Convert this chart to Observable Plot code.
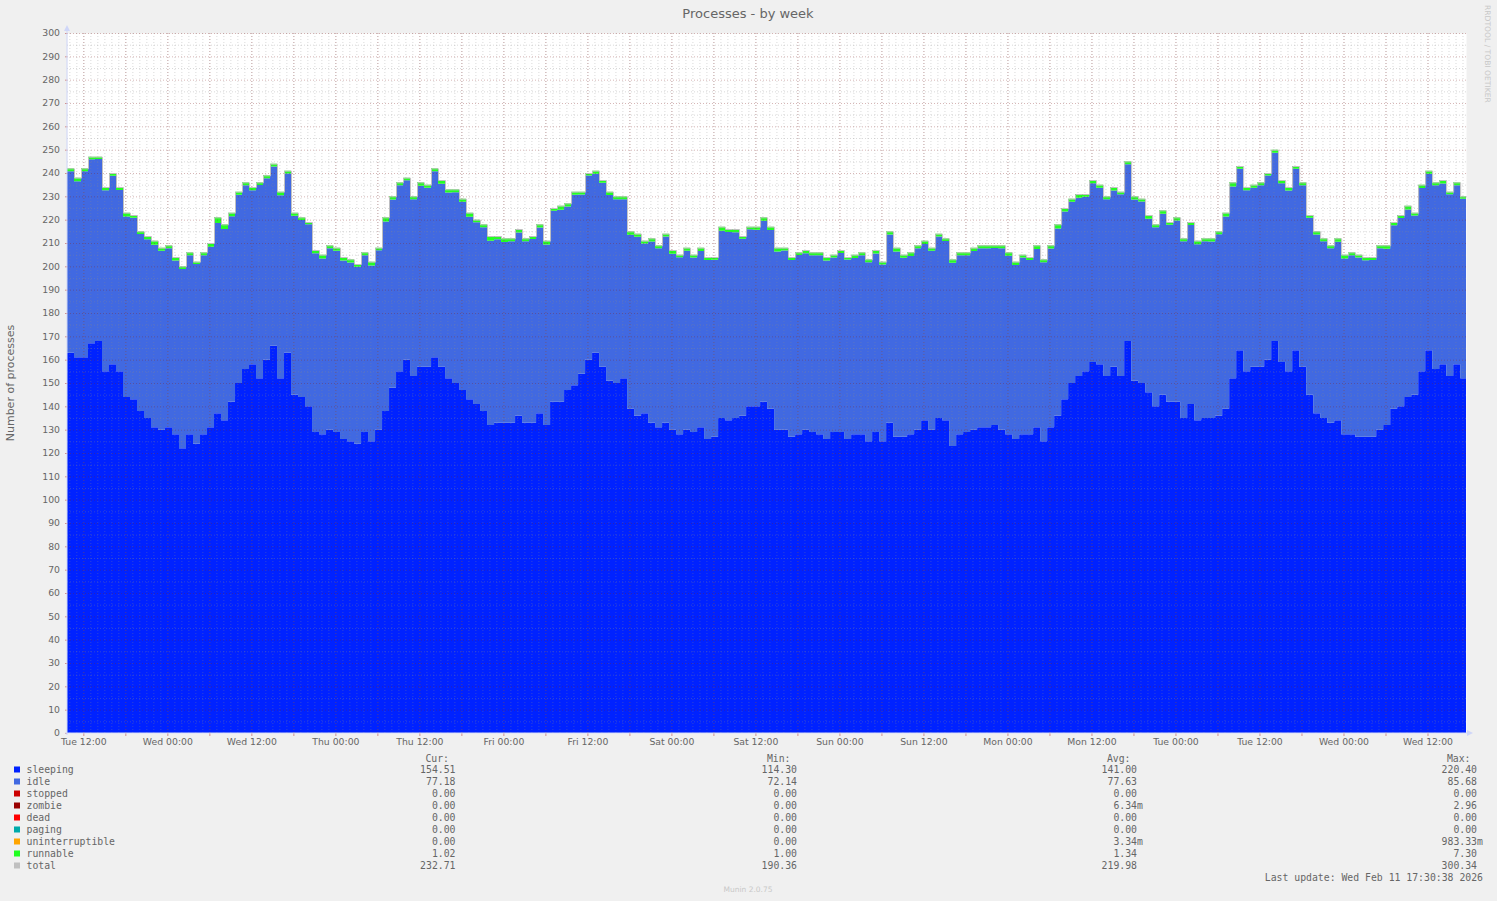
<!DOCTYPE html>
<html>
<head>
<meta charset="utf-8">
<script src="https://cdn.jsdelivr.net/npm/d3@7"></script>
<script src="https://cdn.jsdelivr.net/npm/@observablehq/plot@0.6"></script>
<style>
html, body { margin: 0; padding: 0; background: #f0f0f0; }
#chart { width: 1497px; height: 901px; }
</style>
</head>
<body>
<div id="chart"></div>
<script>
// ---- Data (hourly samples) ----
const startTime = "2026-02-03T09:40:00Z";
const endTime = "2026-02-11T17:30:00Z";

const sleeping = [
163,161,161,167,168,155,158,155,144,143,138,135,131,130,131,128,122,128,124,128,131,137,134,142,150,156,158,152,160,166,152,163,145,144,140,129,128,130,129,126,
125,124,129,125,130,138,148,155,160,153,157,157,161,157,152,150,147,143,141,138,132,133,133,133,136,133,133,137,132,142,142,147,149,154,160,163,157,151,150,152,
139,136,137,133,131,133,130,128,130,129,131,126,127,135,134,135,136,140,140,142,139,130,130,127,128,130,129,128,126,129,129,126,128,128,125,129,125,133,127,127,
128,130,134,130,135,134,123,128,129,130,131,131,132,130,128,126,128,128,131,125,131,136,143,150,153,155,159,158,153,157,153,168,151,150,146,140,145,142,142,135,
141,134,135,135,136,139,152,164,155,157,157,160,168,159,155,164,157,145,137,135,133,134,128,128,127,127,127,130,132,139,140,144,145,155,164,156,158,153,158,152
];

const total = [
242,238,242,247,247,234,240,234,223,222,215,213,211,208,209,204,200,206,202,206,210,221,218,223,232,236,234,236,239,244,232,241,223,221,219,207,205,209,208,204,
203,201,206,202,208,221,230,236,238,230,236,235,242,237,233,233,229,223,220,218,213,213,212,212,216,212,213,218,211,225,226,227,232,232,240,241,237,232,230,230,
215,214,211,212,209,214,207,205,208,205,208,204,204,217,216,216,213,217,217,221,217,208,208,204,206,207,206,206,204,205,207,204,205,206,203,207,202,215,208,205,
206,209,211,208,214,212,203,206,206,208,209,209,209,209,206,202,205,204,209,203,209,218,225,229,231,231,237,235,230,234,232,245,230,229,222,218,224,219,221,212,
219,211,212,212,215,223,236,243,234,235,236,240,250,237,234,243,236,222,215,212,209,212,205,206,205,204,204,209,209,219,222,226,223,235,241,236,237,232,236,230
];

const runnable = [
1.2,1.5,1.3,1.1,1.0,1.4,1.2,1.3,1.6,1.2,1.1,1.4,1.8,1.3,1.2,1.5,1.1,1.3,1.0,1.2,1.6,2.4,2.0,1.5,1.3,1.2,1.4,1.1,1.3,1.2,1.5,1.2,1.3,1.1,1.0,1.4,1.6,1.2,1.3,1.5,
1.4,1.2,1.3,1.6,1.1,1.8,1.4,1.3,1.1,1.2,1.5,1.3,1.2,1.6,1.4,1.2,1.3,1.7,1.1,1.2,2.0,1.4,1.6,1.3,1.5,1.2,1.3,1.4,1.6,1.2,1.8,1.4,1.3,1.2,1.1,1.3,1.2,1.4,1.3,1.2,
1.5,1.3,1.2,1.4,1.3,1.2,1.6,1.1,1.3,1.2,1.4,1.3,1.2,1.7,1.3,1.4,1.2,1.1,1.3,1.5,1.4,1.6,1.2,1.3,1.1,1.4,1.2,1.3,1.5,1.2,1.3,1.1,1.4,1.2,1.3,1.5,1.2,1.4,1.6,1.3,
1.6,1.2,1.4,1.3,1.2,1.1,1.5,1.3,1.2,1.4,1.3,1.2,1.1,1.3,1.5,1.4,1.2,1.3,1.6,1.2,1.4,1.8,1.5,1.3,1.6,1.2,1.4,1.3,1.2,1.5,1.1,1.3,1.4,1.2,1.6,1.3,1.5,1.2,1.4,1.3,
1.3,1.5,1.2,1.4,1.3,1.6,1.8,1.2,1.4,1.3,1.2,1.1,1.3,1.4,1.5,1.2,1.3,1.2,1.4,1.3,1.2,1.5,1.6,1.3,1.2,1.4,1.3,1.2,1.5,1.4,1.3,1.6,1.2,1.4,1.3,1.2,1.5,1.1,1.3,1.0
];

const xTicks = [
"2026-02-03T12:00:00Z","2026-02-04T00:00:00Z","2026-02-04T12:00:00Z","2026-02-05T00:00:00Z",
"2026-02-05T12:00:00Z","2026-02-06T00:00:00Z","2026-02-06T12:00:00Z","2026-02-07T00:00:00Z",
"2026-02-07T12:00:00Z","2026-02-08T00:00:00Z","2026-02-08T12:00:00Z","2026-02-09T00:00:00Z",
"2026-02-09T12:00:00Z","2026-02-10T00:00:00Z","2026-02-10T12:00:00Z","2026-02-11T00:00:00Z",
"2026-02-11T12:00:00Z"
];
const yTicks = [0,10,20,30,40,50,60,70,80,90,100,110,120,130,140,150,160,170,180,190,200,210,220,230,240,250,260,270,280,290,300];

const title = "Processes - by week";
const yLabel = "Number of processes";

const legendNames  = ["sleeping","idle","stopped","zombie","dead","paging","uninterruptible","runnable","total"];
const legendColors = ["#0022ff","#4169e1","#cc0000","#990000","#ff0000","#00aaaa","#ffa500","#22ff22","#c0c0c0"];
const legendCur = ["154.51","77.18","0.00","0.00","0.00","0.00","0.00","1.02","232.71"];
const legendMin = ["114.30","72.14","0.00","0.00","0.00","0.00","0.00","1.00","190.36"];
const legendAvg = ["141.00","77.63","0.00","6.34m","0.00","0.00","3.34m","1.34","219.98"];
const legendMax = ["220.40","85.68","0.00","2.96","0.00","0.00","983.33m","7.30","300.34"];
const lastUpdate = "Last update: Wed Feb 11 17:30:38 2026";
const footer = "Munin 2.0.75";
const sideText = "RRDTOOL / TOBI OETIKER";

// ---- Build table ----
const t0 = new Date(startTime).getTime();
const tEnd = new Date(endTime);
const rows = sleeping.map((s, i) => ({
  t: new Date(t0 + i * 3600e3),
  sleeping: s,
  idleTop: total[i] - runnable[i],
  total: total[i]
}));
rows.push({...rows[rows.length - 1], t: tEnd});

const start = new Date(startTime);
const hourTicks = d3.utcHour.range(d3.utcHour.ceil(start), tEnd);
const sixHourTicks = d3.utcHour.every(6).range(d3.utcHour.every(6).ceil(start), tEnd);
const minorY = d3.range(5, 300, 10);

const GRID = "#8c8c8c", MGRID = "#821e1e", GA = 0.32;
const FONT = "#666666";

const plot = Plot.plot({
  width: 1497,
  height: 901,
  marginLeft: 67,
  marginRight: 31,
  marginTop: 33,
  marginBottom: 168,
  style: {background: "#f0f0f0", fontFamily: "'DejaVu Sans', sans-serif", fontSize: "9.3px", color: FONT, overflow: "visible"},
  x: {type: "utc", domain: [start, tEnd]},
  y: {domain: [0, 300]},
  marks: [
    Plot.frame({fill: "white", stroke: null}),
    Plot.area(rows, {x1: "t", y1: () => 0, y2: "sleeping", curve: "step-after", fill: "#0022ff"}),
    Plot.area(rows, {x1: "t", y1: "sleeping", y2: "idleTop", curve: "step-after", fill: "#4169e1"}),
    Plot.area(rows, {x1: "t", y1: "idleTop", y2: "total", curve: "step-after", fill: "#22ff22"}),
    Plot.gridX(hourTicks, {stroke: GRID, strokeOpacity: GA, strokeDasharray: "1,2"}),
    Plot.gridY(minorY, {stroke: GRID, strokeOpacity: GA, strokeDasharray: "1,2"}),
    Plot.gridX(sixHourTicks, {stroke: MGRID, strokeOpacity: GA, strokeDasharray: "1,2"}),
    Plot.gridY(yTicks.filter(v => v > 0), {stroke: MGRID, strokeOpacity: GA, strokeDasharray: "1,2"}),
    Plot.line(rows, {x: "t", y: "total", curve: "step-after", stroke: "#c0c0c0", strokeWidth: 1}),
    Plot.axisY(yTicks, {tickSize: 2, tickFormat: () => "", color: "#d09090", label: null}),
    Plot.axisY(yTicks, {tickSize: 0, tickPadding: 7.5, color: FONT, fontSize: 9.3, label: null}),
    Plot.axisX(sixHourTicks, {tickSize: 3, tickFormat: () => "", color: "#d09090", label: null}),
    Plot.axisX(xTicks.map(d => new Date(d)), {tickSize: 0, tickPadding: 5, tickFormat: d3.utcFormat("%a %H:%M"), color: FONT, fontSize: 9.3, label: null})
  ]
});

document.getElementById("chart").appendChild(plot);

// ---- Decorations (title, axes arrows, legend) ----
const svg = d3.select(plot);
const xs = plot.scale("x"), ys = plot.scale("y");
const x0 = xs.apply(start), x1 = xs.apply(tEnd);
const yb = ys.apply(0), yt = ys.apply(300);
const AXIS = "#cfd6f8";

svg.append("line").attr("x1", x0).attr("x2", x0).attr("y1", yb + 2).attr("y2", yt - 4)
  .attr("stroke", AXIS).attr("stroke-width", 1);
svg.append("path").attr("d", `M${x0 - 3},${yt - 2} L${x0 + 3},${yt - 2} L${x0},${yt - 8} Z`).attr("fill", AXIS);
svg.append("line").attr("x1", x0 - 2).attr("x2", x1 + 3).attr("y1", yb).attr("y2", yb)
  .attr("stroke", AXIS).attr("stroke-width", 1);
svg.append("path").attr("d", `M${x1 + 1},${yb - 3} L${x1 + 1},${yb + 3} L${x1 + 7},${yb} Z`).attr("fill", AXIS);

svg.append("text").text(title)
  .attr("x", 748).attr("y", 18).attr("text-anchor", "middle")
  .attr("font-family", "'DejaVu Sans', sans-serif").attr("font-size", 13).attr("fill", FONT);

svg.append("text").text(yLabel)
  .attr("transform", "translate(10.5,383) rotate(-90)").attr("text-anchor", "middle").attr("dy", "0.35em")
  .attr("font-family", "'DejaVu Sans', sans-serif").attr("font-size", 11).attr("fill", FONT);

svg.append("text").text(sideText)
  .attr("transform", "translate(1485,5) rotate(90)").attr("text-anchor", "start")
  .attr("font-family", "'DejaVu Sans', sans-serif").attr("font-size", 7.6).attr("fill", "#c8c8c8");

const mono = "'DejaVu Sans Mono', monospace";
const LF = 9.8;
const cols = [
  {head: "Cur:", vals: legendCur, x: 455.5},
  {head: "Min:", vals: legendMin, x: 797},
  {head: "Avg:", vals: legendAvg, x: 1137},
  {head: "Max:", vals: legendMax, x: 1477}
];
const rowBase = 773, rowStep = 12;
cols.forEach(c => {
  svg.append("text").text(c.head).attr("x", c.x - 6.5).attr("y", rowBase - 11.5)
    .attr("text-anchor", "end").attr("font-family", mono).attr("font-size", LF).attr("fill", FONT);
  c.vals.forEach((v, i) => {
    const m = v.match(/^([\d.]+)(\D*)$/);
    const y = rowBase + i * rowStep;
    svg.append("text").text(m[1]).attr("x", c.x).attr("y", y)
      .attr("text-anchor", "end").attr("font-family", mono).attr("font-size", LF).attr("fill", FONT);
    if (m[2]) svg.append("text").text(m[2]).attr("x", c.x).attr("y", y).attr("text-anchor", "start")
      .attr("font-family", mono).attr("font-size", LF).attr("fill", FONT);
  });
});
legendNames.forEach((n, i) => {
  const y = rowBase + i * rowStep;
  svg.append("rect").attr("x", 14).attr("y", y - 6.5).attr("width", 6).attr("height", 6).attr("fill", legendColors[i]);
  svg.append("text").text(n).attr("x", 26.5).attr("y", y).attr("text-anchor", "start")
    .attr("font-family", mono).attr("font-size", LF).attr("fill", FONT);
});
svg.append("text").text(lastUpdate).attr("x", 1483).attr("y", 880.5).attr("text-anchor", "end")
  .attr("font-family", mono).attr("font-size", LF).attr("fill", FONT);
svg.append("text").text(footer).attr("x", 748).attr("y", 892).attr("text-anchor", "middle")
  .attr("font-family", "'DejaVu Sans', sans-serif").attr("font-size", 7.5).attr("fill", "#c8c8c8");
</script>
</body>
</html>
